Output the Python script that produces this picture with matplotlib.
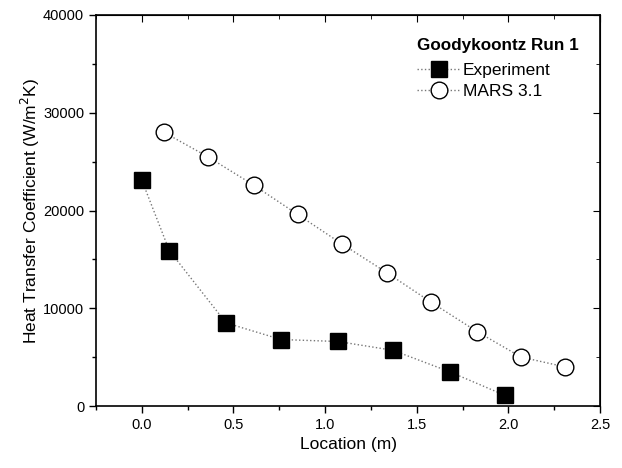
import matplotlib
matplotlib.use("Agg")
from matplotlib import pyplot as plt
from matplotlib.ticker import MultipleLocator

plt.rcParams['font.family'] = ['Liberation Sans', 'DejaVu Sans']

# Goodykoontz Run 1: measured vs. MARS 3.1 heat transfer coefficient
exp_x = [0.0, 0.15, 0.46, 0.76, 1.07, 1.37, 1.68, 1.98]
exp_h = [23100, 15900, 8500, 6800, 6600, 5700, 3500, 1100]

mars_x = [0.12, 0.36, 0.61, 0.85, 1.09, 1.34, 1.58, 1.83, 2.07, 2.31]
mars_h = [28000, 25500, 22600, 19600, 16600, 13600, 10600, 7600, 5000, 4000]

fig = plt.figure(figsize=(6.22, 4.68), dpi=100)
ax = fig.add_axes([96 / 622, 62 / 468, 504 / 622, 391 / 468])

ax.plot(exp_x, exp_h, ls=':', color='#777777', lw=1.0, marker='s',
        ms=11, mfc='black', mec='black', label='Experiment')
ax.plot(mars_x, mars_h, ls=':', color='#777777', lw=1.0, marker='o',
        ms=12, mfc='white', mec='black', mew=1.0, label='MARS 3.1')

ax.set_xlim(-0.25, 2.5)
ax.set_ylim(0, 40000)
ax.xaxis.set_major_locator(MultipleLocator(0.5))
ax.xaxis.set_minor_locator(MultipleLocator(0.25))
ax.yaxis.set_major_locator(MultipleLocator(10000))
ax.yaxis.set_minor_locator(MultipleLocator(5000))
ax.xaxis.set_major_formatter(lambda v, p: '%.1f' % v)

ax.tick_params(which='both', direction='out', labelsize=10.5, width=1.0)
ax.tick_params(which='major', length=5)
ax.tick_params(which='minor', length=3)

# inward ticks on the top and right frame
top = ax.secondary_xaxis('top')
top.xaxis.set_major_locator(MultipleLocator(0.5))
top.xaxis.set_minor_locator(MultipleLocator(0.25))
top.tick_params(which='both', direction='in', labeltop=False)
top.tick_params(which='major', length=5)
top.tick_params(which='minor', length=3)
right = ax.secondary_yaxis('right')
right.yaxis.set_major_locator(MultipleLocator(10000))
right.yaxis.set_minor_locator(MultipleLocator(5000))
right.tick_params(which='both', direction='in', labelright=False)
right.tick_params(which='major', length=5)
right.tick_params(which='minor', length=3)

for s in ax.spines.values():
    s.set_linewidth(1.2)

ax.set_xlabel('Location (m)', fontsize=12.5)
ax.set_ylabel('Heat Transfer Coefficient (W/m$^2$K)', fontsize=12.5, labelpad=1)

ax.text(0.637, 0.923, 'Goodykoontz Run 1', transform=ax.transAxes,
        fontsize=12.3, fontweight='bold', ha='left', va='center')
ax.legend(loc='upper left', frameon=False, fontsize=12.5,
          handlelength=2.5, handletextpad=0.15, labelspacing=0.3,
          borderpad=0, borderaxespad=0, bbox_to_anchor=(0.637, 0.877))

fig.savefig('out.png', dpi=100)
